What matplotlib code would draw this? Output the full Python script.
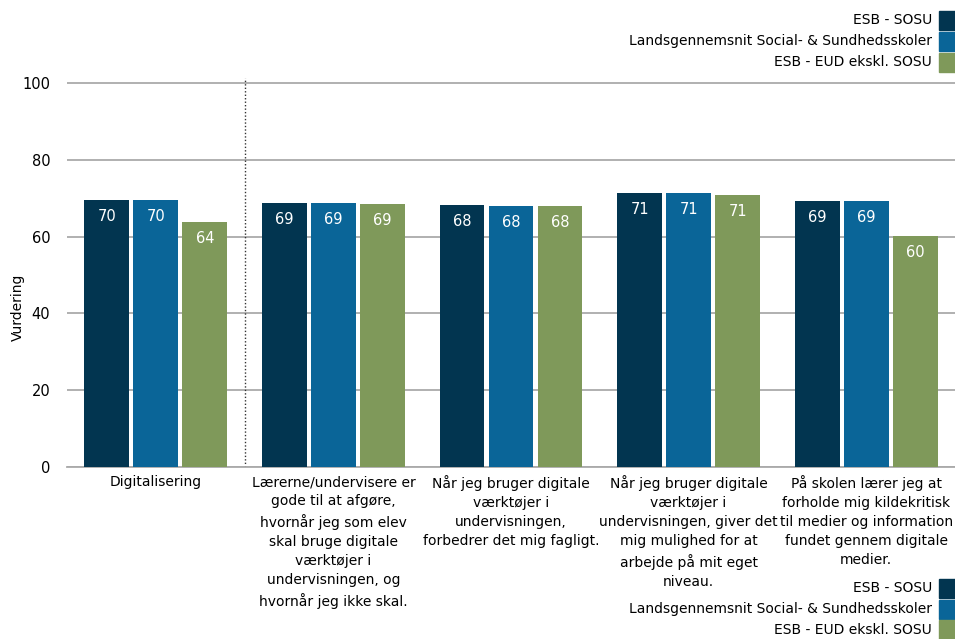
import numpy as np
import matplotlib
matplotlib.use("Agg")
import matplotlib.pyplot as plt
from matplotlib.patches import Rectangle

# --- data ---------------------------------------------------------------
categories = [
    "Digitalisering",
    "Lærerne/undervisere er\ngode til at afgøre,\nhvornår jeg som elev\nskal bruge digitale\nværktøjer i\nundervisningen, og\nhvornår jeg ikke skal.",
    "Når jeg bruger digitale\nværktøjer i\nundervisningen,\nforbedrer det mig fagligt.",
    "Når jeg bruger digitale\nværktøjer i\nundervisningen, giver det\nmig mulighed for at\narbejde på mit eget\nniveau.",
    "På skolen lærer jeg at\nforholde mig kildekritisk\ntil medier og information\nfundet gennem digitale\nmedier.",
]
series_names = ["ESB - SOSU", "Landsgennemsnit Social- & Sundhedsskoler", "ESB - EUD ekskl. SOSU"]
esb_sosu = [69.6, 68.8, 68.2, 71.4, 69.3]
lands = [69.5, 68.7, 68.0, 71.3, 69.3]
esb_eud = [63.9, 68.5, 68.0, 70.8, 60.2]
labels_esb_sosu = ["70", "69", "68", "71", "69"]
labels_lands = ["70", "69", "68", "71", "69"]
labels_esb_eud = ["64", "69", "68", "71", "60"]

colors = ["#023550", "#0a6598", "#7f995a"]
grid_col = "#aaaaaa"

plt.rcParams["font.family"] = ["DejaVu Sans"]

fig = plt.figure(figsize=(9.55, 6.39), dpi=100)
ax = fig.add_axes([67 / 955, 1 - 467 / 639, 888 / 955, 389 / 639])

x = np.arange(len(categories))
width = 0.253
offset = 0.276
series = [esb_sosu, lands, esb_eud]
value_labels = [labels_esb_sosu, labels_lands, labels_esb_eud]
for i, (vals, labs) in enumerate(zip(series, value_labels)):
    bars = ax.bar(x + (i - 1) * offset, vals, width, color=colors[i], zorder=3)
    for b, lab in zip(bars, labs):
        ax.text(b.get_x() + b.get_width() / 2, b.get_height() - 4.3, lab,
                ha="center", va="center", color="white", fontsize=10.5, zorder=4)

ax.set_xlim(-0.5, len(categories) - 0.5)
ax.set_ylim(0, 101.3)
ax.set_yticks([0, 20, 40, 60, 80, 100])
ax.yaxis.grid(True, color=grid_col, linewidth=1.3)
ax.set_axisbelow(True)
for s in ["top", "right", "left"]:
    ax.spines[s].set_visible(False)
ax.spines["bottom"].set_color(grid_col)
ax.spines["bottom"].set_linewidth(1.3)
ax.tick_params(axis="y", length=0, pad=12, labelsize=10.5)
ax.tick_params(axis="x", length=0, pad=6, labelsize=10)
ax.set_xticks(x)
ax.set_xticklabels(categories, linespacing=1.45, va="top")
fig.text(18 / 955, 1 - 307 / 639, "Vurdering", rotation=90, ha="center", va="center", fontsize=10)

# dotted separator after the overall category
ax.axvline(0.5, color="#333333", linestyle=(0, (1, 1.5)), linewidth=1, zorder=2)


# --- legends (top and bottom) -----------------------------------------
def draw_legend(y_centers):
    for name, col, yc in zip(series_names, colors, y_centers):
        fig.text(932 / 955, 1 - yc / 639, name, ha="right", va="center", fontsize=10)
        fig.patches.append(Rectangle((939 / 955, 1 - (yc + 9.5) / 639), 16 / 955, 19 / 639,
                                     transform=fig.transFigure, color=col))


draw_legend([20, 41, 62])
draw_legend([588, 609, 630])

fig.savefig("out.png", dpi=100)
